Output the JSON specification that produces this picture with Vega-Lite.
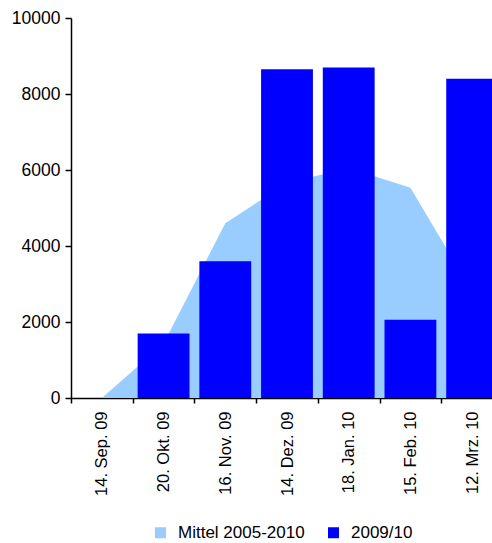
{
  "$schema": "https://vega.github.io/schema/vega-lite/v6.json",
  "autosize": {"type": "none"},
  "padding": {"left": 71, "top": 18, "right": 0, "bottom": 145},
  "width": 421,
  "height": 380,
  "background": "white",
  "config": {
    "view": {"stroke": null},
    "font": "Liberation Sans",
    "axis": {"labelFont": "Liberation Sans", "labelColor": "black", "domainColor": "black", "tickColor": "black", "domainWidth": 1.5, "tickWidth": 1.5, "grid": false, "title": null},
    "legend": {"labelFont": "Liberation Sans", "labelColor": "black"}
  },
  "datasets": {
    "mittel": [
      {"datum": "14. Sep. 09", "wert": 0, "serie": "Mittel 2005-2010"},
      {"datum": "20. Okt. 09", "wert": 1430, "serie": "Mittel 2005-2010"},
      {"datum": "16. Nov. 09", "wert": 4600, "serie": "Mittel 2005-2010"},
      {"datum": "14. Dez. 09", "wert": 5660, "serie": "Mittel 2005-2010"},
      {"datum": "18. Jan. 10", "wert": 6050, "serie": "Mittel 2005-2010"},
      {"datum": "15. Feb. 10", "wert": 5530, "serie": "Mittel 2005-2010"},
      {"datum": "12. Mrz. 10", "wert": 2800, "serie": "Mittel 2005-2010"}
    ],
    "saison": [
      {"datum": "14. Sep. 09", "wert": 0, "serie": "2009/10"},
      {"datum": "20. Okt. 09", "wert": 1700, "serie": "2009/10"},
      {"datum": "16. Nov. 09", "wert": 3600, "serie": "2009/10"},
      {"datum": "14. Dez. 09", "wert": 8650, "serie": "2009/10"},
      {"datum": "18. Jan. 10", "wert": 8700, "serie": "2009/10"},
      {"datum": "15. Feb. 10", "wert": 2060, "serie": "2009/10"},
      {"datum": "12. Mrz. 10", "wert": 8400, "serie": "2009/10"}
    ]
  },
  "encoding": {
    "x": {
      "field": "datum", "type": "nominal",
      "sort": ["14. Sep. 09", "20. Okt. 09", "16. Nov. 09", "14. Dez. 09", "18. Jan. 10", "15. Feb. 10", "12. Mrz. 10"],
      "scale": {"range": [0, 432], "paddingInner": 0.16, "paddingOuter": 0.08},
      "axis": {"labelAngle": -90, "labelFontSize": 16.5, "tickSize": 5, "labelPadding": 8, "tickOffset": -30.86, "labelOffset": 30.86}
    },
    "y": {
      "field": "wert", "type": "quantitative",
      "scale": {"domain": [0, 10000], "nice": false},
      "axis": {"values": [0, 2000, 4000, 6000, 8000, 10000], "format": "d", "labelFontSize": 17.5, "tickSize": 6, "labelPadding": 5}
    },
    "color": {
      "field": "serie", "type": "nominal",
      "scale": {"domain": ["Mittel 2005-2010", "2009/10"], "range": ["#99CCFF", "#0000FF"]},
      "legend": {"title": null, "orient": "none", "direction": "horizontal", "legendX": 81, "legendY": 506, "symbolType": "square", "symbolSize": 121, "symbolStrokeWidth": 0, "labelFontSize": 17, "labelOffset": 9, "columnPadding": 20}
    }
  },
  "layer": [
    {"data": {"name": "mittel"}, "mark": {"type": "area", "opacity": 1}},
    {"data": {"name": "saison"}, "mark": {"type": "bar"}}
  ]
}
